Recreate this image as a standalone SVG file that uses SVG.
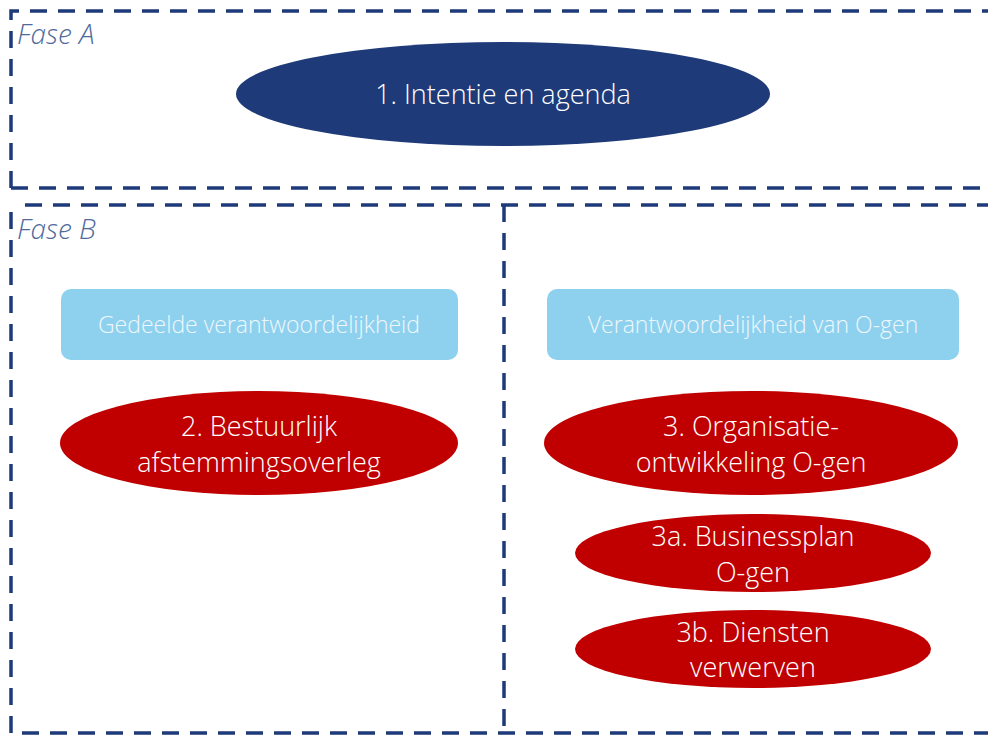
<svg xmlns="http://www.w3.org/2000/svg" width="988" height="736" viewBox="0 0 988 736">
<style>
.frame{fill:none;stroke:#1f3a78;stroke-width:3.5;stroke-dasharray:17 11}
.phase{font-family:"Open Sans","Liberation Sans",sans-serif;font-style:italic;font-weight:300;font-size:28px;fill:#4f6a9c}
.lbl{font-family:"Open Sans","Liberation Sans",sans-serif;font-weight:300;fill:#ffffff;text-anchor:middle}
.big{font-size:27px}
.sm{font-size:23px;fill:#eef7fc}
.red{fill:#c00000}
.lb{fill:#8ed1ee}
</style>
<rect width="988" height="736" fill="#ffffff"/>
<g id="frames">
<path class="frame" d="M11,188 V11 H990"/>
<path class="frame" d="M11,188 H990"/>
<path class="frame" d="M25,205 H990"/>
<path class="frame" d="M11,212 V733 H990"/>
<path class="frame" d="M504,205 V733"/>
</g>
<text class="phase" x="17" y="44">Fase A</text>
<text class="phase" x="17" y="239">Fase B</text>
<g id="n1">
<ellipse cx="503" cy="94" rx="267" ry="52" fill="#1e3a78"/>
<text class="lbl big" x="503" y="104">1. Intentie en agenda</text>
</g>
<g id="hdrL">
<rect class="lb" x="61" y="289" width="397" height="71" rx="10"/>
<text class="lbl sm" x="259" y="333">Gedeelde verantwoordelijkheid</text>
</g>
<g id="hdrR">
<rect class="lb" x="547" y="289" width="412" height="71" rx="10"/>
<text class="lbl sm" x="753" y="333">Verantwoordelijkheid van O-gen</text>
</g>
<g id="n2">
<ellipse class="red" cx="259" cy="443" rx="199" ry="52"/>
<text class="lbl big" x="259" y="436">2. Bestuurlijk</text>
<text class="lbl big" x="259" y="472">afstemmingsoverleg</text>
</g>
<g id="n3">
<ellipse class="red" cx="751" cy="443" rx="207" ry="52"/>
<text class="lbl big" x="751" y="436">3. Organisatie-</text>
<text class="lbl big" x="751" y="472">ontwikkeling O-gen</text>
</g>
<g id="n3a">
<ellipse class="red" cx="753" cy="553" rx="178" ry="39"/>
<text class="lbl big" x="753" y="546">3a. Businessplan</text>
<text class="lbl big" x="753" y="582">O-gen</text>
</g>
<g id="n3b">
<ellipse class="red" cx="753" cy="649" rx="178" ry="39"/>
<text class="lbl big" x="753" y="642">3b. Diensten</text>
<text class="lbl big" x="753" y="677">verwerven</text>
</g>
</svg>
